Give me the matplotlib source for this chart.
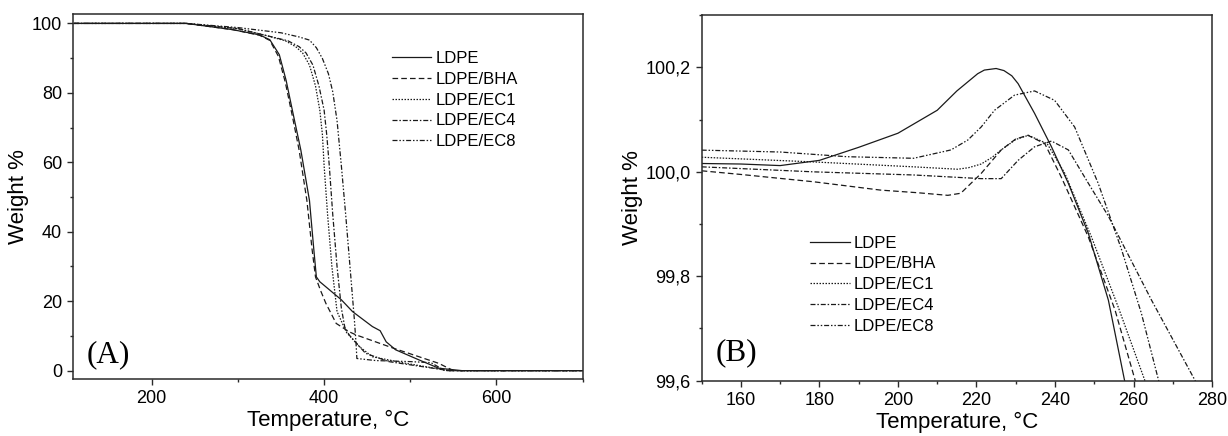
import numpy as np
from matplotlib import pyplot as plt
from matplotlib.ticker import MultipleLocator, FuncFormatter

plt.rcParams['font.family'] = ['Liberation Sans', 'DejaVu Sans']

labels = ["LDPE", "LDPE/BHA", "LDPE/EC1", "LDPE/EC4", "LDPE/EC8"]
styles = ['-', (0, (4.5, 2.5)), (0, (1.2, 1.2)), (0, (4, 1.5, 1.2, 1.5)), (0, (4, 1.5, 1.2, 1.5, 1.2, 1.5))]

# panel A - full TGA curves
tA_ldpe = [110, 240, 294, 325, 337, 348, 356, 364, 373, 383, 388, 391, 395, 420, 433, 456, 465, 472, 483, 510, 533, 560, 700]
wA_ldpe = [100, 100, 98.2, 96.7, 95.3, 91, 83.5, 74, 63.5, 49, 35, 27, 25.6, 20.4, 17, 12.7, 11.5, 8.3, 6, 3.1, 0.7, 0, 0]
tA_bha = [110, 240, 294, 325, 337, 347, 355, 363, 371, 380, 386, 390, 396, 402, 414, 429, 437, 480, 533, 550, 700]
wA_bha = [100, 100, 98.2, 96.6, 95.1, 90.5, 83, 73.5, 63.5, 49, 35, 27, 23, 19.4, 13.6, 11.2, 10.3, 6.5, 2.1, 0, 0]
tA_ec1 = [110, 240, 300, 333, 355, 367, 375, 383, 390, 395, 398, 400, 404, 409, 415, 426, 441, 456, 495, 545, 700]
wA_ec1 = [100, 100, 98.5, 96.5, 95, 93.3, 91.5, 88, 82, 75, 68, 59, 45, 30, 17, 11, 6.9, 4, 2.1, 0, 0]
tA_ec4 = [110, 240, 300, 333, 358, 371, 379, 387, 394, 400, 403, 406, 410, 415, 420, 424, 429, 448, 475, 545, 700]
wA_ec4 = [100, 100, 98.5, 96.5, 95, 93.3, 91.5, 88, 82, 75, 68, 59, 45, 30, 18, 12.5, 10.3, 5, 2.6, 0, 0]
tA_ec8 = [110, 240, 300, 350, 371, 383, 391, 398, 405, 410, 415, 420, 425, 430, 435, 437, 438, 460, 500, 524, 540, 700]
wA_ec8 = [100, 100, 98.8, 97.3, 96.1, 95.2, 93, 89.9, 85.5, 80.3, 72, 59, 45, 30, 15, 8, 3.5, 2.9, 2.6, 2.3, 0, 0]

# panel B - zoom on the initial region
tB_ldpe = [150, 160, 170, 180, 190, 200, 210, 215, 220.3, 222, 225, 227, 229, 230.6, 234.8, 239.1, 243.4, 248.5, 253.6, 257.7, 258.5]
wB_ldpe = [100.016, 100.015, 100.012, 100.022, 100.047, 100.074, 100.118, 100.155, 100.188, 100.195, 100.198, 100.194, 100.184, 100.169, 100.112, 100.048, 99.978, 99.882, 99.754, 99.601, 99.58]
tB_bha = [150, 160, 178.5, 195.6, 205, 212.7, 216, 221.2, 226.3, 230, 233.1, 237.4, 241.6, 248.5, 255.3, 260.4, 261]
wB_bha = [100.002, 99.995, 99.981, 99.965, 99.96, 99.955, 99.959, 99.997, 100.042, 100.063, 100.07, 100.054, 99.99, 99.875, 99.735, 99.601, 99.58]
tB_ec1 = [150, 178.5, 204, 215.2, 218, 221.2, 224, 226.3, 230, 233.2, 238, 242.5, 249.3, 256.1, 262.9, 263.5]
wB_ec1 = [100.028, 100.019, 100.0096, 100.005, 100.008, 100.015, 100.028, 100.042, 100.062, 100.07, 100.054, 99.997, 99.875, 99.741, 99.60, 99.58]
tB_ec4 = [150, 178.5, 204, 221.2, 226.3, 230.6, 234.8, 239.1, 243.4, 248.5, 253.6, 264.6, 275.7, 276.5]
wB_ec4 = [100.0096, 100.0, 99.994, 99.987, 99.987, 100.022, 100.048, 100.059, 100.042, 99.978, 99.915, 99.754, 99.60, 99.58]
tB_ec8 = [150, 170, 187, 204, 213.5, 217.8, 221.2, 224.6, 229.7, 234.8, 239.9, 245, 251, 257, 262, 266.4, 267]
wB_ec8 = [100.0416, 100.038, 100.029, 100.026, 100.042, 100.061, 100.086, 100.118, 100.147, 100.155, 100.137, 100.086, 99.978, 99.85, 99.729, 99.60, 99.58]

seriesA = [(tA_ldpe, wA_ldpe), (tA_bha, wA_bha), (tA_ec1, wA_ec1), (tA_ec4, wA_ec4), (tA_ec8, wA_ec8)]
seriesB = [(tB_ldpe, wB_ldpe), (tB_bha, wB_bha), (tB_ec1, wB_ec1), (tB_ec4, wB_ec4), (tB_ec8, wB_ec8)]

fig = plt.figure(figsize=(12.28, 4.36), dpi=100)
axA = fig.add_axes([0.0597, 0.130, 0.4148, 0.837])
axB = fig.add_axes([0.5714, 0.127, 0.4156, 0.838])

for ax, series in ((axA, seriesA), (axB, seriesB)):
    for (t, w), lab, ls in zip(series, labels, styles):
        ax.plot(t, w, color='#1a1a1a', lw=0.9, linestyle=ls, label=lab)
    for s in ax.spines.values():
        s.set_color('#2a2a2a')
        s.set_linewidth(1.1)
    ax.tick_params(which='major', direction='out', length=4.5, width=1, labelsize=13, color='#2a2a2a')
    ax.tick_params(which='minor', direction='out', length=2.5, width=1, color='#2a2a2a')
    ax.set_xlabel('Temperature, °C', fontsize=16, labelpad=2)
    ax.set_ylabel('Weight %', fontsize=16, labelpad=2)
    ax.legend(loc='upper left', frameon=False, fontsize=12, handlelength=2.35,
              handletextpad=0.25, labelspacing=0.35, borderpad=0, borderaxespad=0,
              bbox_to_anchor=(0.626, 0.90) if ax is axA else (0.213, 0.397))

axA.set_xlim(109, 700)
axA.set_ylim(-2.5, 102.6)
axA.xaxis.set_major_locator(MultipleLocator(200))
axA.xaxis.set_minor_locator(MultipleLocator(100))
axA.yaxis.set_major_locator(MultipleLocator(20))
axA.yaxis.set_minor_locator(MultipleLocator(10))
axA.text(0.027, 0.047, '(A)', transform=axA.transAxes, family='Liberation Serif', fontsize=22.5, va='baseline')

axB.set_xlim(150, 280)
axB.set_ylim(99.6, 100.3)
axB.xaxis.set_major_locator(MultipleLocator(20))
axB.xaxis.set_minor_locator(MultipleLocator(10))
axB.yaxis.set_major_locator(MultipleLocator(0.2))
axB.yaxis.set_minor_locator(MultipleLocator(0.1))
axB.yaxis.set_major_formatter(FuncFormatter(lambda v, p: f"{v:.1f}".replace('.', ',')))
axB.text(0.028, 0.057, '(B)', transform=axB.transAxes, family='Liberation Serif', fontsize=22.5, va='baseline')

fig.savefig('out.png', dpi=100)
